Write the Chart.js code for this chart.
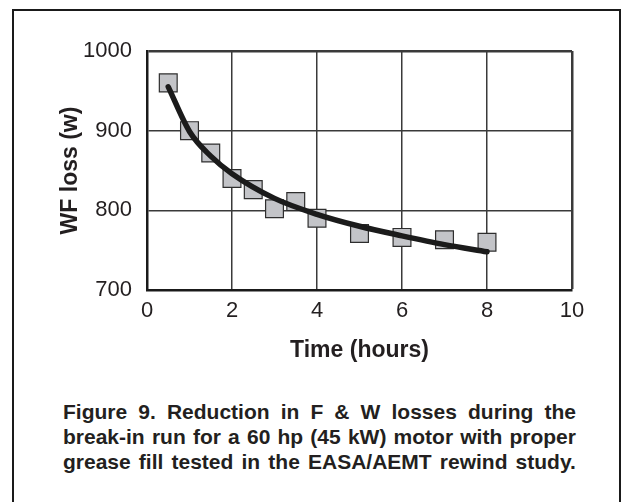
<!DOCTYPE html>
<html>
<head>
<meta charset="utf-8">
<script src="https://cdn.jsdelivr.net/npm/chart.js@4.4.1/dist/chart.umd.min.js"></script>
<style>
  html, body { margin: 0; padding: 0; background: #fff; }
  body { width: 625px; height: 502px; position: relative; overflow: hidden; font-family: "Liberation Sans", Arial, sans-serif; }
  #frame { position: absolute; left: 12px; top: 9px; width: 605px; height: 520px; border: 2.5px solid #1a1a1a; box-sizing: content-box; }
  #wrap { position: absolute; left: 0; top: 0; width: 625px; height: 364px; }
  #caption { position: absolute; left: 63px; top: 399px; width: 513px; color: #231f20; font-weight: bold; font-size: 21px; line-height: 25px; }
  .ln { display: flex; justify-content: space-between; white-space: nowrap; }
</style>
</head>
<body>
<div id="frame"></div>
<div id="wrap"><canvas id="c"></canvas></div>
<div id="caption"></div>
<script>
// ---- data ----
const times  = [0.5, 1, 1.5, 2, 2.5, 3, 3.5, 4, 5, 6, 7, 8];
const losses = [960, 900, 872, 840, 826, 802, 811, 790, 771, 766, 763, 760];
// trend curve, values
const curveTimes  = [0.5, 1, 1.5, 2, 3, 4, 5, 6, 7, 8];
const curveLosses = [955, 899, 868, 846, 815, 795, 780, 768, 757, 748];
const xTicks = [0, 2, 4, 6, 8, 10];
const yTicks = [700, 800, 900, 1000];
const xTitle = "Time (hours)";
const yTitle = "WF loss (w)";
const captionLines = [
  "Figure 9. Reduction in F & W losses during the",
  "break-in run for a 60 hp (45 kW) motor with proper",
  "grease fill tested in the EASA/AEMT rewind study."
];

// caption (justified lines, tightened when needed)
const cap = document.getElementById('caption');
const W = 513, minGap = 4, fsize = 21;
const mctx = document.createElement('canvas').getContext('2d');
mctx.font = 'bold ' + fsize + 'px "Liberation Sans", Arial, sans-serif';
captionLines.forEach((t) => {
  const words = t.split(' ');
  const chars = words.reduce((a, w) => a + w.length, 0);
  const natural = words.reduce((a, w) => a + mctx.measureText(w).width, 0);
  let ls = 0;
  const need = natural + (words.length - 1) * minGap;
  if (need > W) ls = -(need - W) / chars;
  const d = document.createElement('div');
  d.className = 'ln';
  d.style.letterSpacing = ls.toFixed(3) + 'px';
  words.forEach(w => { const s = document.createElement('span'); s.textContent = w; d.appendChild(s); });
  cap.appendChild(d);
});

const markerPts = times.map((t, i) => ({ x: t, y: losses[i] }));
const curvePts = curveTimes.map((t, i) => ({ x: t, y: curveLosses[i] }));

const txt = '#231f20';
const fam = '"Liberation Sans", Arial, sans-serif';

new Chart(document.getElementById('c'), {
  type: 'scatter',
  data: {
    datasets: [
      {
        label: 'trend',
        data: curvePts,
        showLine: true,
        borderColor: '#1b1b1b',
        borderWidth: 5.5,
        borderCapStyle: 'round',
        borderJoinStyle: 'round',
        cubicInterpolationMode: 'monotone',
        pointRadius: 0,
        pointHoverRadius: 0,
        fill: false,
        order: 0
      },
      {
        label: 'WF loss',
        data: markerPts,
        showLine: false,
        pointStyle: 'rect',
        pointRadius: 12.6,
        pointHoverRadius: 12.6,
        pointBackgroundColor: '#c3c4c8',
        pointBorderColor: '#2e2e2e',
        pointBorderWidth: 1.2,
        order: 1
      }
    ]
  },
  options: {
    responsive: true,
    maintainAspectRatio: false,
    animation: false,
    events: [],
    layout: { padding: { top: 51, right: 53, left: 0, bottom: 0 } },
    plugins: { legend: { display: false }, tooltip: { enabled: false } },
    scales: {
      x: {
        type: 'linear',
        min: 0, max: 10,
        afterBuildTicks: (s) => { s.ticks = xTicks.map(v => ({ value: v })); },
        afterFit: (s) => { s.height = 74; },
        border: { display: true, color: '#1a1a1a', width: 2.5 },
        grid: {
          drawTicks: false,
          color: '#3a3a3a',
          lineWidth: (c) => (c.tick && c.tick.value === 10) ? 2.5 : 1.5
        },
        ticks: { color: txt, padding: 8, font: { family: fam, size: 22 }, callback: (v) => String(v) },
        title: { display: true, text: xTitle, color: txt, padding: { top: 0, bottom: 0 }, font: { family: fam, size: 23, weight: 'bold' } }
      },
      y: {
        type: 'linear',
        min: 700, max: 1000,
        afterBuildTicks: (s) => { s.ticks = yTicks.map(v => ({ value: v })); },
        afterFit: (s) => { s.width = 147; },
        border: { display: true, color: '#1a1a1a', width: 2.5 },
        grid: {
          drawTicks: false,
          color: '#3a3a3a',
          lineWidth: (c) => (c.tick && c.tick.value === 1000) ? 2.5 : 1.5
        },
        ticks: { color: txt, padding: 15, font: { family: fam, size: 22 }, callback: (v) => String(v) },
        title: { display: true, text: yTitle, color: txt, padding: { top: 57, bottom: 0 }, font: { family: fam, size: 23, weight: 'bold' } }
      }
    }
  }
});
</script>
</body>
</html>
